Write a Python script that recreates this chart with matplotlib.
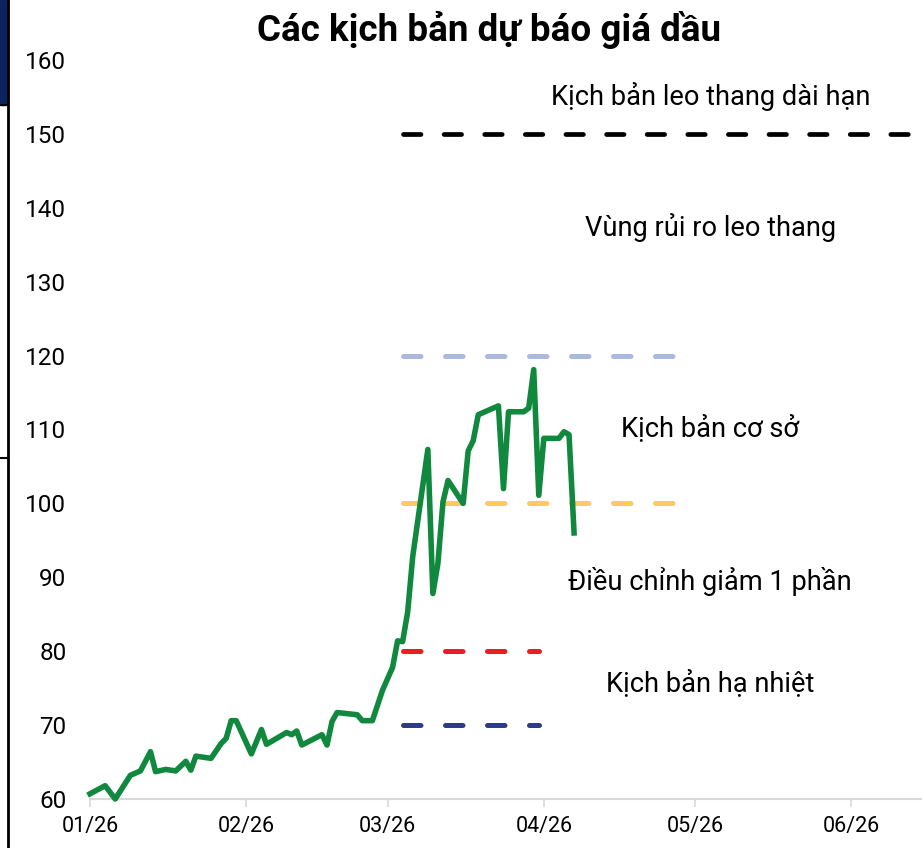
import matplotlib
matplotlib.use("Agg")
import matplotlib.pyplot as plt
import matplotlib.dates as mdates
from matplotlib.lines import Line2D
from matplotlib.patches import Rectangle
import pandas as pd

plt.rcParams["font.family"] = ["Roboto", "DejaVu Sans"]

# giá dầu (USD/thùng)
price_dates = ["2026-01-01", "2026-01-04", "2026-01-06", "2026-01-09", "2026-01-11",
               "2026-01-13", "2026-01-14", "2026-01-16", "2026-01-18", "2026-01-20",
               "2026-01-21", "2026-01-22", "2026-01-25", "2026-01-27", "2026-01-28",
               "2026-01-29", "2026-01-30", "2026-02-02", "2026-02-04", "2026-02-05",
               "2026-02-09", "2026-02-10", "2026-02-11", "2026-02-12", "2026-02-16",
               "2026-02-17", "2026-02-18", "2026-02-19", "2026-02-23", "2026-02-24",
               "2026-02-26", "2026-02-28", "2026-03-02", "2026-03-03", "2026-03-04",
               "2026-03-05", "2026-03-06", "2026-03-09", "2026-03-10", "2026-03-11",
               "2026-03-12", "2026-03-13", "2026-03-16", "2026-03-17", "2026-03-18",
               "2026-03-19", "2026-03-23", "2026-03-24", "2026-03-25", "2026-03-28",
               "2026-03-29", "2026-03-30", "2026-03-31", "2026-04-01", "2026-04-04",
               "2026-04-05", "2026-04-06", "2026-04-07"]
price_values = [60.7, 61.8, 60.0, 63.2, 63.8,
                66.4, 63.7, 64.0, 63.8, 65.1,
                63.9, 65.8, 65.5, 67.5, 68.2,
                70.6, 70.6, 66.1, 69.4, 67.4,
                69.0, 68.7, 69.2, 67.3, 68.7,
                67.3, 70.5, 71.7, 71.4, 70.6,
                70.6, 74.7, 77.8, 81.4, 81.3,
                85.3, 92.8, 107.3, 87.8, 91.9,
                100.2, 103.1, 100.0, 107.1, 108.5,
                112.0, 113.2, 102.0, 112.4, 112.4,
                112.9, 118.1, 101.1, 108.8, 108.8,
                109.7, 109.3, 96.0]

# các kịch bản
scenario_levels = [150, 120, 100, 80, 70]
scenario_start = ["2026-03-04"] * 5
scenario_end = ["2026-07-01", "2026-04-28", "2026-04-28", "2026-03-31", "2026-03-31"]
scenario_colors = ["#000000", "#aab9dd", "#ffca60", "#ec1c24", "#2e3a8c"]

labels = ["Kịch bản leo thang dài hạn", "Vùng rủi ro leo thang", "Kịch bản cơ sở",
          "Điều chỉnh giảm 1 phần", "Kịch bản hạ nhiệt"]
label_y = [155.0, 137.4, 110.2, 89.4, 75.7]

fig = plt.figure(figsize=(9.22, 8.48), dpi=100)
ax = fig.add_axes([90 / 922, 49 / 848, 1 - 90 / 922, 739 / 848])

for i, (lvl, s, e, c) in enumerate(zip(scenario_levels, scenario_start,
                                       scenario_end, scenario_colors)):
    if i == 0:
        lw, dash = 3.4, (3.7, 4.9)
    else:
        lw, dash = 3.6, (3.5, 4.9)
    ax.plot(pd.to_datetime([s, e]), [lvl, lvl], color=c, lw=lw,
            dashes=dash, dash_capstyle="round", zorder=2)

ax.plot(pd.to_datetime(price_dates), price_values, color="#10893e", lw=4,
        solid_joinstyle="round", zorder=3, clip_on=False)

for t, y in zip(labels, label_y):
    ax.text(pd.Timestamp("2026-05-04"), y, t, ha="center", va="center", fontsize=19.6)

ax.set_ylim(60, 160)
ax.set_yticks(range(60, 161, 10))
ax.set_xlim(pd.Timestamp("2026-01-01"), pd.Timestamp("2026-06-15"))
ax.xaxis.set_major_locator(mdates.MonthLocator())
ax.xaxis.set_major_formatter(mdates.DateFormatter("%m/%y"))

for s in ["top", "right", "left"]:
    ax.spines[s].set_visible(False)
ax.spines["bottom"].set_color("#d9d9d9")
ax.spines["bottom"].set_linewidth(1.5)
ax.tick_params(axis="y", length=0, labelsize=17.5, pad=17)
ax.tick_params(axis="x", length=6, width=1.2, color="#d9d9d9", labelsize=15.5, pad=6)

fig.text(489 / 922, 1 - 30 / 848, "Các kịch bản dự báo giá dầu", ha="center",
         va="center", fontsize=26.5, fontweight="bold")

# viền khung bên trái
fig.add_artist(Rectangle((0, 1 - 105 / 848), 8 / 922, 105 / 848,
                         transform=fig.transFigure, color="#0b2460"))
fig.add_artist(Line2D([8 / 922, 8 / 922], [0, 1], transform=fig.transFigure,
                      color="black", lw=2))
fig.add_artist(Line2D([0, 8 / 922], [1 - 105 / 848] * 2, transform=fig.transFigure,
                      color="black", lw=1.5))
fig.add_artist(Line2D([0, 8 / 922], [1 - 458 / 848] * 2, transform=fig.transFigure,
                      color="black", lw=1.5))

fig.savefig("out.png", dpi=100)
